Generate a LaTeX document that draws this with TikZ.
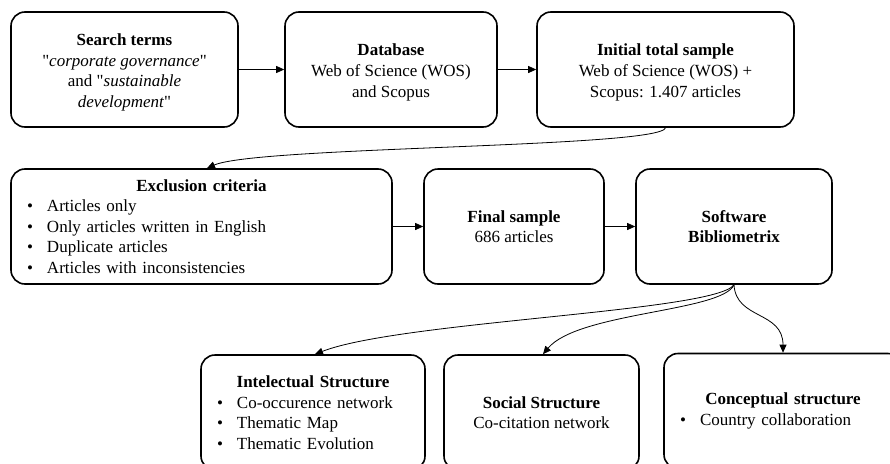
\documentclass[tikz,border=0pt]{standalone}
\usepackage{fontspec}
\setmainfont{Liberation Serif}[Ligatures=TeXOff]
\usetikzlibrary{arrows.meta}
\newcommand{\bul}{\makebox[20pt][l]{\textbullet}}
\newcommand{\lowr}{\rule{0pt}{17.5pt}}
\begin{document}
\begin{tikzpicture}[x=1pt,y=-1pt,
  box/.style={draw, line width=1.6pt, rounded corners=14pt, minimum height=115pt,
    inner sep=0pt, align=center, font=\fontsize{17}{20.6}\selectfont},
  listbox/.style={box, inner xsep=16pt, text width=#1, align=left},
  conn/.style={line width=0.8pt, -{Triangle[length=8pt,width=7pt]}}]
\useasboundingbox (0,0) rectangle (890,463);
% row 1
\node[box, minimum width=227pt] (search) at (124.5,69.5)
  {\lowr\textbf{Search terms}\\"\textit{corporate governance}"\\and "\textit{sustainable}\\\textit{development}"};
\node[box, minimum width=212pt] (db) at (391,69.5)
  {\lowr\textbf{Database}\\Web of Science (WOS)\\and Scopus};
\node[box, minimum width=257pt] (init) at (665.5,69.5)
  {\lowr\textbf{Initial total sample}\\Web of Science (WOS) +\\Scopus: 1.407 articles};
% row 2
\node[listbox=349pt] (excl) at (201.5,226.5)
  {\makebox[\hsize]{\textbf{Exclusion criteria}}\\
   \bul Articles only\\
   \bul Only articles written in English\\
   \bul Duplicate articles\\
   \bul Articles with inconsistencies};
\node[box, minimum width=180pt] (final) at (514,226.5)
  {\textbf{Final sample}\\686 articles};
\node[box, minimum width=196pt] (soft) at (734,226.5)
  {\textbf{Software}\\\textbf{Bibliometrix}};
% row 3
\node[listbox=192pt] (intel) at (313,412.5)
  {\makebox[\hsize]{\textbf{Intelectual Structure}}\\
   \bul Co-occurence network\\
   \bul Thematic Map\\
   \bul Thematic Evolution};
\node[box, minimum width=195pt] (social) at (541.5,412.5)
  {\textbf{Social Structure}\\Co-citation network};
\node[listbox=206pt] (concept) at (783,411)
  {\makebox[\hsize]{\textbf{Conceptual structure}}\\
   \bul Country collaboration};
% connectors
\draw[conn] (search.east) -- (db.west);
\draw[conn] (db.east) -- (init.west);
\draw[conn] (excl.east) -- (final.west);
\draw[conn] (final.east) -- (soft.west);
\draw[conn] (init.south) .. controls +(-5,20) and +(50,-22) .. ([xshift=5.5pt]excl.north);
\draw[conn] (soft.south) .. controls +(-19,27) and +(85,-33) .. ([xshift=2pt]intel.north);
\draw[conn] (soft.south) .. controls +(-12,27) and +(35,-42) .. ([xshift=1.5pt]social.north);
\draw[conn] (soft.south) .. controls +(2,35) and +(0,-42) .. (concept.north);
\end{tikzpicture}
\end{document}
